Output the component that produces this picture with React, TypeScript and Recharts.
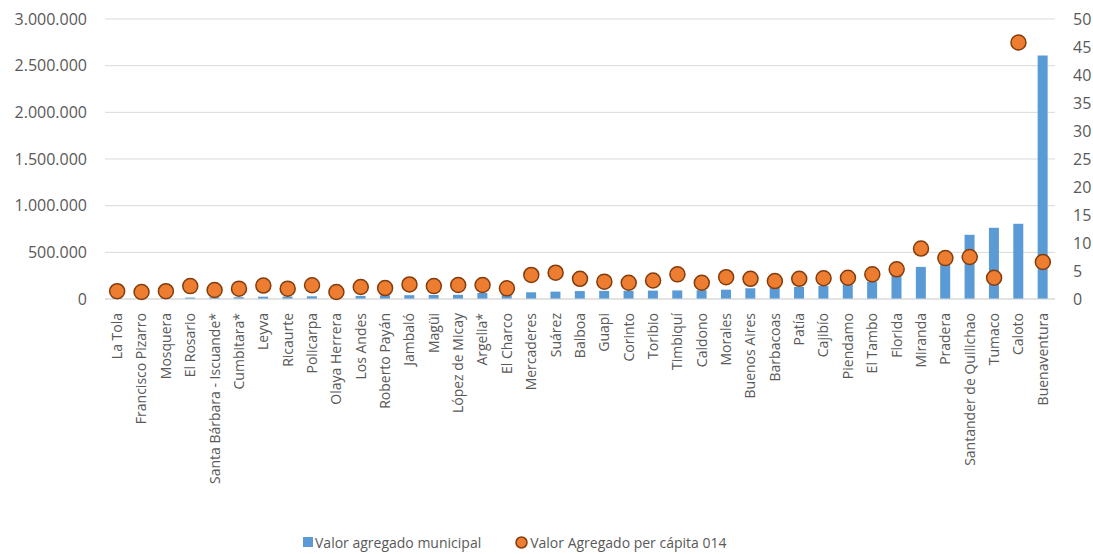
import React from 'react';
import {
  ComposedChart,
  Bar,
  Scatter,
  XAxis,
  YAxis,
  CartesianGrid,
  Legend,
} from 'recharts';

const municipios = [
  'La Tola', 'Francisco Pizarro', 'Mosquera', 'El Rosario', 'Santa Bárbara - Iscuande*',
  'Cumbitara*', 'Leyva', 'Ricaurte', 'Policarpa', 'Olaya Herrera', 'Los Andes',
  'Roberto Payán', 'Jambaló', 'Magüi', 'López de Micay', 'Argelia*', 'El Charco',
  'Mercaderes', 'Suárez', 'Balboa', 'Guapi', 'Corinto', 'Toribio', 'Timbiquí',
  'Caldono', 'Morales', 'Buenos Aires', 'Barbacoas', 'Patía', 'Cajibío', 'Piendamo',
  'El Tambo', 'Florida', 'Miranda', 'Pradera', 'Santander de Quilichao', 'Tumaco',
  'Caloto', 'Buenaventura',
];

const valorAgregado = [
  8000, 5000, 9000, 15000, 18000, 19000, 25000, 26000, 29000, 30000, 33000,
  40000, 41000, 43000, 45000, 65000, 57000, 72000, 79000, 85000, 87000, 88000,
  90000, 92000, 94000, 100000, 115000, 122000, 129000, 140000, 160000, 185000,
  247000, 344000, 390000, 688000, 763000, 806000, 2610000,
];

const perCapita = [
  1.4, 1.25, 1.4, 2.3, 1.6, 1.85, 2.4, 1.85, 2.45, 1.25, 2.15,
  1.95, 2.6, 2.3, 2.5, 2.5, 1.9, 4.3, 4.7, 3.6, 3.1, 2.9,
  3.3, 4.4, 2.9, 3.9, 3.6, 3.2, 3.6, 3.7, 3.8, 4.4,
  5.3, 9.0, 7.3, 7.5, 3.8, 45.8, 6.6,
];

const leftTicks = [0, 500000, 1000000, 1500000, 2000000, 2500000, 3000000];
const rightTicks = [0, 5, 10, 15, 20, 25, 30, 35, 40, 45, 50];

const data = municipios.map((name, i) => ({
  name,
  valor: valorAgregado[i],
  perCapita: perCapita[i],
}));

const FONT = '"Open Sans", sans-serif';
const TEXT = '#595959';

const formatMiles = (v: number) => String(v).replace(/\B(?=(\d{3})+(?!\d))/g, '.');

const CategoryTick = (props: any) => {
  const { x, y, payload } = props;
  return (
    <text
      x={x}
      y={y + 6}
      transform={`rotate(-90, ${x}, ${y + 6})`}
      textAnchor="end"
      dy="0.35em"
      fill={TEXT}
      fontSize={14}
      fontFamily={FONT}
    >
      {payload.value}
    </text>
  );
};

const Dot = (props: any) => {
  const { cx, cy } = props;
  if (cx == null || cy == null) return null;
  return <circle cx={cx} cy={cy} r={7.5} fill="#ED7D31" stroke="#843C0C" strokeWidth={1.5} />;
};

const LegendContent = () => (
  <div
    style={{
      height: 24,
      display: 'flex',
      justifyContent: 'flex-start',
      alignItems: 'center',
      paddingLeft: 303,
      fontFamily: FONT,
      fontSize: 14,
      color: TEXT,
    }}
  >
    <span style={{ display: 'flex', alignItems: 'center', marginRight: 34 }}>
      <span style={{ width: 10, height: 10, background: '#5B9BD5', marginRight: 2 }} />
      Valor agregado municipal
    </span>
    <span style={{ display: 'flex', alignItems: 'center' }}>
      <svg width={13} height={13} style={{ marginRight: 2 }}>
        <circle cx={6.5} cy={6.5} r={5.5} fill="#ED7D31" stroke="#843C0C" strokeWidth={1.5} />
      </svg>
      Valor Agregado per cápita 014
    </span>
  </div>
);

const App: React.FC = () => {
  return (
    <div style={{ position: 'absolute', left: 0, top: 0, width: 1093, height: 554, background: '#fff' }}>
      <ComposedChart
        width={1093}
        height={554}
        data={data}
        margin={{ top: 19, right: 0, bottom: 0, left: 0 }}
      >
        <CartesianGrid yAxisId="left" vertical={false} stroke="#D9D9D9" strokeWidth={1} />
        <XAxis
          dataKey="name"
          interval={0}
          height={231}
          tick={<CategoryTick />}
          tickLine={false}
          axisLine={{ stroke: '#D9D9D9' }}
        />
        <YAxis
          yAxisId="left"
          width={105}
          domain={[0, 3000000]}
          ticks={leftTicks}
          tickFormatter={formatMiles}
          tickLine={false}
          axisLine={false}
          tickMargin={12}
          tick={{ fill: TEXT, fontSize: 16, fontFamily: FONT }}
        />
        <YAxis
          yAxisId="right"
          orientation="right"
          width={38}
          domain={[0, 50]}
          ticks={rightTicks}
          tickLine={false}
          axisLine={false}
          tickMargin={12}
          tick={{ fill: TEXT, fontSize: 16, fontFamily: FONT, textAnchor: 'start' }}
        />
        <Bar
          yAxisId="left"
          dataKey="valor"
          name="Valor agregado municipal"
          fill="#5B9BD5"
          barSize={10}
          isAnimationActive={false}
        />
        <Scatter
          yAxisId="right"
          dataKey="perCapita"
          name="Valor Agregado per cápita 014"
          shape={<Dot />}
          isAnimationActive={false}
        />
        <Legend verticalAlign="bottom" content={<LegendContent />} />
      </ComposedChart>
    </div>
  );
};

export default App;
